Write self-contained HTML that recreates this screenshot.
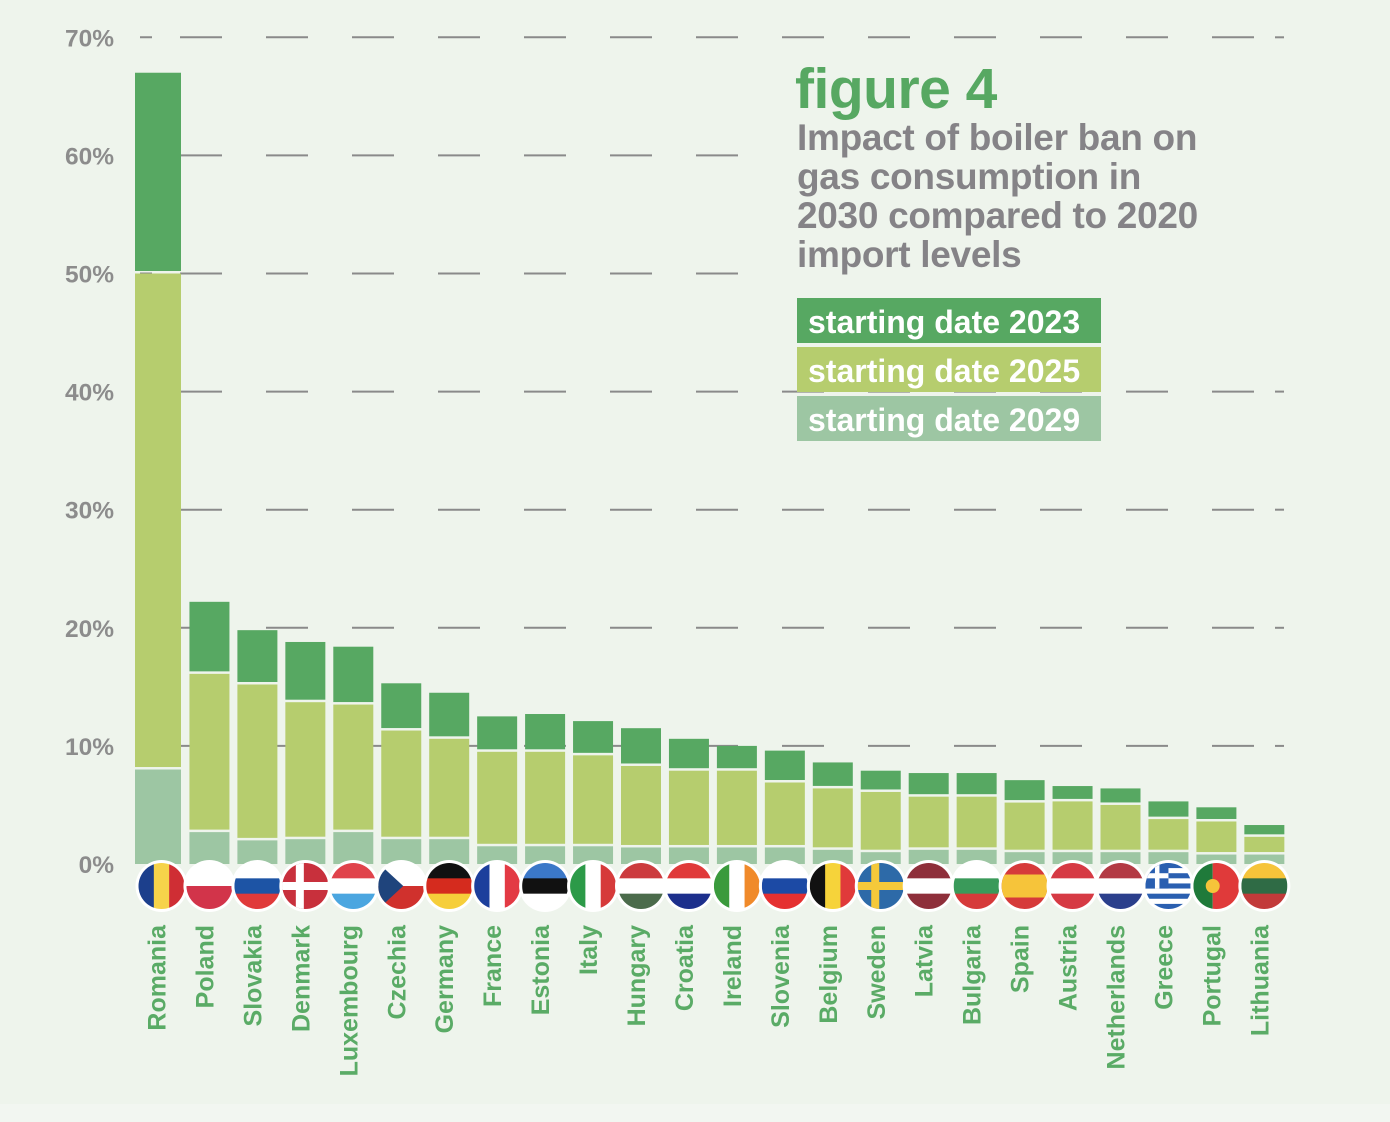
<!DOCTYPE html>
<html><head><meta charset="utf-8"><style>
html,body{margin:0;padding:0;background:#eef4ec;}
svg{display:block;font-family:"Liberation Sans",sans-serif;}
</style></head><body>
<svg id="chart" width="1390" height="1122" viewBox="0 0 1390 1122" xmlns="http://www.w3.org/2000/svg">
<rect x="0" y="0" width="1390" height="1122" fill="#eef4ec"/>
<rect x="0" y="1104" width="1390" height="18" fill="#f2f6f1"/>
<g id="grid"></g>
<g id="yaxis"></g>
<g id="bars"></g>
<g id="flags"></g>
<g id="xlabels"></g>
<rect x="740" y="52" width="550" height="235" fill="#eef4ec"/>
<text x="795" y="108" font-size="57" font-weight="bold" fill="#57a862" letter-spacing="-0.5">figure 4</text>
<g font-size="37" font-weight="bold" fill="#858387" letter-spacing="-0.3">
<text x="797" y="150">Impact of boiler ban on</text>
<text x="797" y="189">gas consumption in</text>
<text x="797" y="228">2030 compared to 2020</text>
<text x="797" y="267">import levels</text>
</g>
<g font-size="32" font-weight="bold" fill="#fff">
<g><rect x="797" y="298" width="304" height="45" fill="#57a862"/><text x="808" y="333">starting date 2023</text></g>
<g><rect x="797" y="347" width="304" height="45" fill="#b6cd6e"/><text x="808" y="382">starting date 2025</text></g>
<g><rect x="797" y="396" width="304" height="45" fill="#9dc6a3"/><text x="808" y="431">starting date 2029</text></g>
</g>
</svg>
<script>
const countries=["Romania","Poland","Slovakia","Denmark","Luxembourg","Czechia","Germany","France","Estonia","Italy","Hungary","Croatia","Ireland","Slovenia","Belgium","Sweden","Latvia","Bulgaria","Spain","Austria","Netherlands","Greece","Portugal","Lithuania"];
const s2029=[8.0,2.7,2.0,2.1,2.7,2.1,2.1,1.5,1.5,1.5,1.4,1.4,1.4,1.4,1.2,1.0,1.2,1.2,1.0,1.0,1.0,1.0,0.8,0.8];
const s2025=[42.0,13.4,13.2,11.6,10.8,9.2,8.5,8.0,8.0,7.7,6.9,6.5,6.5,5.5,5.2,5.1,4.5,4.5,4.2,4.3,4.0,2.8,2.8,1.5];
const s2023=[17.0,6.1,4.6,5.1,4.9,4.0,3.9,3.0,3.2,2.9,3.2,2.7,2.1,2.7,2.2,1.8,2.0,2.0,1.9,1.3,1.4,1.5,1.2,1.0];
const yTicks=[0,10,20,30,40,50,60,70];
const yTickLabels=["0%","10%","20%","30%","40%","50%","60%","70%"];
const NS="http://www.w3.org/2000/svg";
function y(v){return 864-v*11.81;}
function xc(i){return 161.5+i*47.95;}
function mk(tag,attrs,parent){const e=document.createElementNS(NS,tag);for(const k in attrs)e.setAttribute(k,attrs[k]);parent.appendChild(e);return e;}
const grid=document.getElementById('grid'),yax=document.getElementById('yaxis');
yTicks.forEach((t,i)=>{
  if(t>0){const l=mk('line',{x1:140,x2:1260,y1:y(t),y2:y(t),stroke:'#8a8a8a','stroke-width':2,'stroke-dasharray':'12 28 42 44 42 44 42 44 42 44 42 44 42 44 42 44 42 44 42 44 42 44 42 44 42 44 42 44 42 44 42 44'},grid);
  
  
  const l2=mk('line',{x1:1275,x2:1284,y1:y(t),y2:y(t),stroke:'#8a8a8a','stroke-width':2},grid);
  
  }
  const tx=mk('text',{x:114,y:y(t)+9,'text-anchor':'end','font-size':24.5,'font-weight':'bold',fill:'#8c8c8c'},yax);
  tx.textContent=yTickLabels[i];
  
  
});
const bars=document.getElementById('bars');
const cols=['#9dc6a3','#b6cd6e','#57a862'];
countries.forEach((c,i)=>{
  const g=mk('g',{},bars);
  
  
  const vals=[s2029[i],s2025[i],s2023[i]];let base=0;
  const w=i===0?46:40, x0=i===0?135:xc(i)-20;
  vals.forEach((v,k)=>{
    const r=mk('rect',{x:x0,y:y(base+v),width:w,height:y(base)-y(base+v)-(k>0?2.5:0),fill:cols[k]},g);
    
    
    base+=v;
  });
});
const flagSpec={
Romania:['v',['#1c3f8c','#f6d34a','#cf2e34']],Poland:['h',['#fff','#d2344a']],Slovakia:['h',['#fff','#1d54a5','#e03a3a']],
Denmark:['cross',['#c8303c','#fff'],0.38],Luxembourg:['h',['#e0434b','#fff','#4ba6e0']],Czechia:['cz'],Germany:['h',['#111','#d52b1e','#f6ce3a']],
France:['v',['#1c3f9c','#fff','#e33a44']],Estonia:['h',['#3b78c8','#111','#fff']],Italy:['v',['#2c9a48','#fff','#d63a3a']],
Hungary:['h',['#cc3b3e','#fff','#4b6b4b']],Croatia:['h',['#e03a3a','#fff','#1c2f8c']],Ireland:['v',['#3a9a3c','#fff','#f08a2a']],
Slovenia:['h',['#fff','#1c4aa5','#e53030']],Belgium:['v',['#111','#f6d33a','#e03a3a']],Sweden:['cross',['#2d6aa8','#f5c93a'],0.38],
Latvia:['h3',['#8e2f3a','#fff','#8e2f3a']],Bulgaria:['h',['#fff','#3a9a5a','#d63a3a']],Spain:['h4',['#d63a3a','#f6c43a','#d63a3a']],
Austria:['h',['#d63a44','#fff','#d63a44']],Netherlands:['h',['#b33a44','#fff','#2b3f8c']],Greece:['gr'],Portugal:['v2',['#1f7a3a','#e03a3a']],
Lithuania:['h',['#f6c43a','#2f6b45','#c23a3a']]};
const flags=document.getElementById('flags');const defs=mk('defs',{},flags);
countries.forEach((c,i)=>{
  const cx=xc(i),cy=886,r=23;
  const cp=mk('clipPath',{id:'cp'+i},defs);mk('circle',{cx:cx,cy:cy,r:r},cp);
  const g=mk('g',{},flags);
  
  
  mk('circle',{cx:cx,cy:cy,r:r+3,fill:'#fff'},g);
  const f=mk('g',{'clip-path':'url(#cp'+i+')'},g);
  const s=flagSpec[c],x0=cx-r,y0=cy-r,d=2*r;
  if(s[0]==='v'){s[1].forEach((col,k)=>mk('rect',{x:x0+k*d/3,y:y0,width:d/3+0.5,height:d,fill:col},f));}
  else if(s[0]==='h'||s[0]==='h3'){s[1].forEach((col,k)=>mk('rect',{x:x0,y:y0+k*d/s[1].length,width:d,height:d/s[1].length+0.5,fill:col},f));}
  else if(s[0]==='h4'){mk('rect',{x:x0,y:y0,width:d,height:d,fill:s[1][0]},f);mk('rect',{x:x0,y:y0+d/4,width:d,height:d/2,fill:s[1][1]},f);}
  else if(s[0]==='cross'){mk('rect',{x:x0,y:y0,width:d,height:d,fill:s[1][0]},f);mk('rect',{x:x0,y:cy-4,width:d,height:8,fill:s[1][1]},f);mk('rect',{x:x0+d*s[2]-4,y:y0,width:8,height:d,fill:s[1][1]},f);}
  else if(s[0]==='cz'){mk('rect',{x:x0,y:y0,width:d,height:r,fill:'#fff'},f);mk('rect',{x:x0,y:cy,width:d,height:r,fill:'#d0312d'},f);mk('polygon',{points:`${x0},${y0} ${cx+2},${cy} ${x0},${y0+d}`,fill:'#1f447c'},f);}
  else if(s[0]==='gr'){for(let k=0;k<9;k++)mk('rect',{x:x0,y:y0+k*d/9,width:d,height:d/9+0.3,fill:k%2?'#fff':'#2a5fb0'},f);mk('rect',{x:x0,y:y0,width:r,height:d*5/9,fill:'#2a5fb0'},f);mk('rect',{x:x0,y:y0+d*2/9,width:r,height:d/9,fill:'#fff'},f);mk('rect',{x:x0+r/2-2,y:y0,width:4.5,height:d*5/9,fill:'#fff'},f);}
  else if(s[0]==='v2'){mk('rect',{x:x0,y:y0,width:d*0.42,height:d,fill:s[1][0]},f);mk('rect',{x:x0+d*0.42,y:y0,width:d,height:d,fill:s[1][1]},f);mk('circle',{cx:x0+d*0.42,cy:cy,r:7,fill:'#f6c43a'},f);}
});
const xl=document.getElementById('xlabels');
countries.forEach((c,i)=>{
  const t=mk('text',{x:0,y:0,transform:`translate(${xc(i)+4},925) rotate(-90)`,'text-anchor':'end','font-size':25,'font-weight':'bold',fill:'#5aab66'},xl);
  t.textContent=c;
  
  
});
</script>
</body></html>
